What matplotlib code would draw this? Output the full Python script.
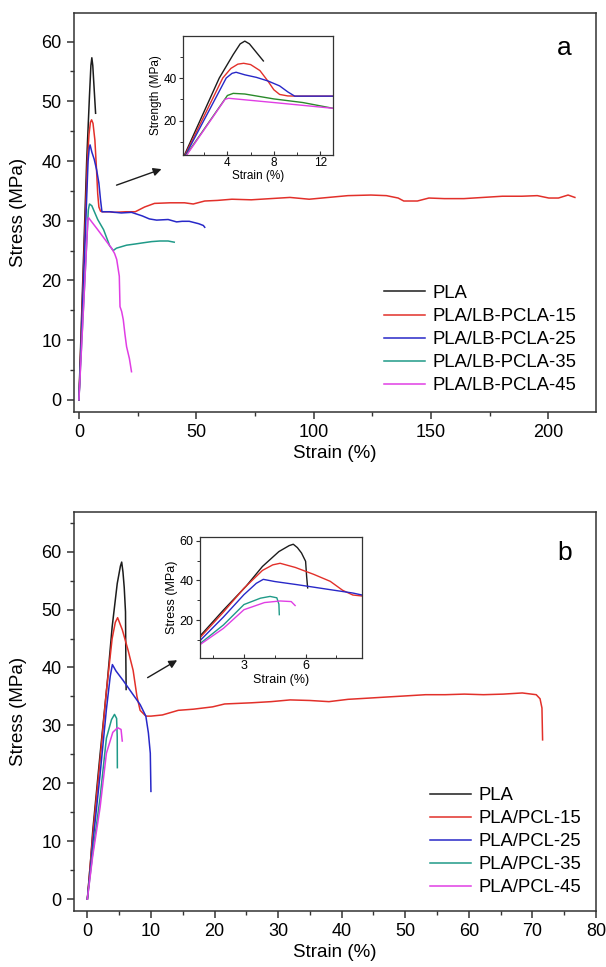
import numpy as np
import matplotlib
matplotlib.use("Agg")
import matplotlib.pyplot as plt
from matplotlib.ticker import MultipleLocator

plt.rcParams['font.family'] = ['Liberation Sans', 'DejaVu Sans']

# ---- panel a: PLA / LB-PCLA blends (strain %, stress MPa) ----
labels_a = ['PLA', 'PLA/LB-PCLA-15', 'PLA/LB-PCLA-25', 'PLA/LB-PCLA-35', 'PLA/LB-PCLA-45']

pla_a_x = [0, 0.3, 3.3, 4.5, 5.1, 5.5, 5.9, 6.5, 7.1]
pla_a_y = [0, 3.9, 40, 51, 56, 57.3, 56, 52, 48]

p15_a_x = [0, 0.35, 3.6, 4.3, 4.9, 5.4, 6.0, 6.8, 7.5, 8.0, 8.5, 9.2, 10, 13.1, 15, 20, 24, 28,
           32.2, 38.8, 45, 48.7, 53.6, 59, 65.2, 73.4, 81.6, 89.9, 98.1, 106.3, 114.6, 124.4,
           131, 136, 138.4, 144.2, 149.1, 155.7, 164, 172.2, 180.4, 188.7, 195.3, 200.2, 204.3,
           208.4, 211.3]
p15_a_y = [0, 3.9, 40, 44.5, 46.5, 46.9, 46.3, 43.5, 38.5, 34.5, 32.3, 31.6, 31.5, 31.5, 31.4,
           31.5, 31.5, 32.3, 32.9, 33.0, 33.0, 32.8, 33.3, 33.4, 33.6, 33.5, 33.7, 33.9, 33.6,
           33.9, 34.2, 34.3, 34.2, 33.8, 33.3, 33.3, 33.8, 33.7, 33.7, 33.9, 34.1, 34.1, 34.2,
           33.8, 33.8, 34.3, 33.9]

p25_a_x = [0, 0.4, 3.9, 4.4, 4.75, 5.5, 6.5, 7.5, 8.5, 9.2, 9.8, 13.1, 18, 22.4, 27, 30, 33.1,
           38, 41.6, 44, 47, 51, 53, 53.6]
p25_a_y = [0, 3.9, 40, 42.2, 42.7, 41.5, 40.3, 38.6, 36.3, 33.5, 31.5, 31.5, 31.3, 31.4, 30.8,
           30.3, 30.1, 30.2, 29.8, 29.9, 29.9, 29.5, 29.2, 28.9]

p35_a_x = [0, 0.45, 4.0, 4.5, 5.5, 8, 10.5, 13.1, 14.6, 16, 20.3, 24, 27.4, 31, 34.5, 38, 40.6]
p35_a_y = [0, 3.9, 31.8, 32.8, 32.5, 30.2, 28.5, 25.8, 25.0, 25.4, 25.9, 26.1, 26.3, 26.5, 26.6,
           26.6, 26.4]

p45_a_x = [0, 0.5, 3.8, 4.1, 8, 13.1, 13.9, 15.2, 16.1, 17.2, 17.5, 18.2, 18.9, 19.6, 20.3, 21.5, 22.4]
p45_a_y = [0, 3.9, 30, 30.5, 28.5, 25.8, 25.4, 24.5, 23.5, 20.7, 15.6, 14.8, 13.4, 11.0, 8.9, 6.9, 4.7]

# ---- panel b: PLA / PCL blends ----
labels_b = ['PLA', 'PLA/PCL-15', 'PLA/PCL-25', 'PLA/PCL-35', 'PLA/PCL-45']

pla_b_x = [0, 0.5, 0.85, 2, 3.1, 3.9, 4.7, 5.2, 5.4, 5.6, 5.8, 6.0, 6.05, 6.1]
pla_b_y = [0, 6.5, 11.8, 25, 37, 47, 54.5, 57.5, 58.2, 56.5, 53.8, 49.6, 42, 36.2]

p15_b_x = [0, 0.5, 0.85, 2, 3, 3.9, 4.4, 4.76, 5.5, 6.4, 7.2, 7.8, 8.3, 9.2, 10, 11.8, 14.3,
           16.7, 19.7, 21.6, 25.8, 28.9, 31.9, 35, 38, 41, 44.1, 47.1, 50.2, 53.2, 56.3, 59.3,
           62.3, 65.4, 68.4, 70.6, 71.2, 71.5, 71.6]
p15_b_y = [0, 6.5, 11, 24, 36, 45, 47.8, 48.6, 46.5, 43, 39.5, 35, 32.6, 31.6, 31.6, 31.8, 32.6,
           32.8, 33.2, 33.7, 33.9, 34.1, 34.4, 34.3, 34.1, 34.5, 34.7, 34.9, 35.1, 35.3, 35.3,
           35.4, 35.3, 35.4, 35.6, 35.3, 34.6, 33, 27.5]

p25_b_x = [0, 0.5, 0.85, 2, 3, 3.6, 3.94, 4.5, 5.6, 7.2, 8.3, 9.2, 9.6, 9.9, 10]
p25_b_y = [0, 5.5, 9.5, 21.5, 32.8, 38.5, 40.5, 39.4, 37.8, 35.3, 33.6, 31.6, 28.7, 25.2, 18.6]

p35_b_x = [0, 0.5, 0.85, 2, 3, 3.8, 4.27, 4.6, 4.7, 4.72]
p35_b_y = [0, 4.7, 8, 17.5, 27.8, 31, 31.9, 31.2, 28, 22.7]

p45_b_x = [0, 0.5, 0.85, 2, 3, 4, 4.76, 5.3, 5.49]
p45_b_y = [0, 4.4, 7.5, 15.8, 25.2, 28.8, 29.6, 29.3, 27.3]

colors = ['#1c1c1c', '#e2302a', '#2828c8', '#1f9a88', '#e03ee4']
inset_a_colors = ['#1c1c1c', '#e2302a', '#2828c8', '#2a8a2a', '#e03ee4']

curves_a = [(pla_a_x, pla_a_y), (p15_a_x, p15_a_y), (p25_a_x, p25_a_y),
            (p35_a_x, p35_a_y), (p45_a_x, p45_a_y)]
curves_b = [(pla_b_x, pla_b_y), (p15_b_x, p15_b_y), (p25_b_x, p25_b_y),
            (p35_b_x, p35_b_y), (p45_b_x, p45_b_y)]

W, H = 606, 967
fig = plt.figure(figsize=(W / 100, H / 100), dpi=100)


def box(l, t, r, b):
    # pixel box -> figure fraction rect
    return [l / W, 1 - b / H, (r - l) / W, (b - t) / H]


def style_main(ax):
    for s in ax.spines.values():
        s.set_linewidth(1.1)
        s.set_color('#333333')
    ax.tick_params(which='both', direction='out', top=False, right=False,
                   labelsize=13, pad=4, color='#333333')
    ax.tick_params(which='major', length=5, width=1.1)
    ax.tick_params(which='minor', length=3, width=1.0)


def style_inset(ax, fs):
    for s in ax.spines.values():
        s.set_linewidth(0.9)
        s.set_color('#333333')
    ax.tick_params(which='both', top=False, right=False, labelsize=fs, pad=1.5, color='#333333')
    ax.tick_params(axis='x', which='both', direction='in')
    ax.tick_params(axis='y', which='both', direction='out')
    ax.tick_params(which='major', length=3, width=0.8)
    ax.tick_params(which='minor', length=2, width=0.7)


# ================= panel a =================
ax1 = fig.add_axes(box(74, 13, 596, 411.7))
for (x, y), c, lab in zip(curves_a, colors, labels_a):
    ax1.plot(x, y, color=c, lw=1.1, label=lab)
ax1.set_xlim(-2.1, 220.3)
ax1.set_ylim(-2, 64.8)
ax1.xaxis.set_major_locator(MultipleLocator(50))
ax1.xaxis.set_minor_locator(MultipleLocator(25))
ax1.yaxis.set_major_locator(MultipleLocator(10))
ax1.yaxis.set_minor_locator(MultipleLocator(5))
style_main(ax1)
ax1.set_xlabel('Strain (%)', fontsize=13.5, labelpad=3)
ax1.set_ylabel('Stress (MPa)', fontsize=13.5)
ax1.yaxis.set_label_coords(-0.09, 0.5)
ax1.text(0.939, 0.912, 'a', transform=ax1.transAxes, fontsize=19, ha='center', va='center')
ax1.legend(loc='upper left', bbox_to_anchor=(0.594, 0.318), frameon=False, fontsize=13.3,
           handlelength=2.2, handletextpad=0.4, labelspacing=0.33, borderpad=0, borderaxespad=0)
ax1.annotate('', xy=(36.3, 38.8), xytext=(14.9, 35.8),
             arrowprops=dict(arrowstyle='-|>', color='#1c1c1c', lw=1.0, mutation_scale=12))

in1 = fig.add_axes(box(183.3, 36, 333, 155))
for (x, y), c in zip(curves_a, inset_a_colors):
    in1.plot(x, y, color=c, lw=1.0)
in1.set_xlim(0.2, 13.1)
in1.set_ylim(3.9, 59.7)
in1.set_xticks([4, 8, 12])
in1.xaxis.set_minor_locator(MultipleLocator(2))
in1.set_yticks([20, 40])
in1.set_yticks([10, 30, 50], minor=True)
style_inset(in1, 8.5)
in1.set_xlabel('Strain (%)', fontsize=8.5, labelpad=1)
in1.set_ylabel('Strength (MPa)', fontsize=8.5, labelpad=1)

# ================= panel b =================
ax2 = fig.add_axes(box(74, 511.7, 596, 910.7))
for (x, y), c, lab in zip(curves_b, colors, labels_b):
    ax2.plot(x, y, color=c, lw=1.1, label=lab)
ax2.set_xlim(-2.1, 80)
ax2.set_ylim(-2, 66.9)
ax2.xaxis.set_major_locator(MultipleLocator(10))
ax2.xaxis.set_minor_locator(MultipleLocator(5))
ax2.yaxis.set_major_locator(MultipleLocator(10))
ax2.yaxis.set_minor_locator(MultipleLocator(5))
style_main(ax2)
ax2.set_xlabel('Strain (%)', fontsize=13.5, labelpad=3)
ax2.set_ylabel('Stress (MPa)', fontsize=13.5)
ax2.yaxis.set_label_coords(-0.09, 0.5)
ax2.text(0.939, 0.896, 'b', transform=ax2.transAxes, fontsize=19, ha='center', va='center')
ax2.legend(loc='upper left', bbox_to_anchor=(0.682, 0.31), frameon=False, fontsize=13.3,
           handlelength=2.2, handletextpad=0.4, labelspacing=0.33, borderpad=0, borderaxespad=0)
ax2.annotate('', xy=(14.5, 41.5), xytext=(9.1, 38.0),
             arrowprops=dict(arrowstyle='-|>', color='#1c1c1c', lw=1.0, mutation_scale=12))

in2 = fig.add_axes(box(199.8, 536.7, 362.5, 658.3))
for (x, y), c in zip(curves_b, colors):
    in2.plot(x, y, color=c, lw=1.0)
in2.set_xlim(0.85, 8.77)
in2.set_ylim(0.7, 62)
in2.set_xticks([3, 6])
in2.set_xticks([1.5, 4.5, 7.5], minor=True)
in2.set_yticks([20, 40, 60])
in2.set_yticks([10, 30, 50], minor=True)
style_inset(in2, 9)
in2.set_xlabel('Strain (%)', fontsize=9, labelpad=1)
in2.set_ylabel('Stress (MPa)', fontsize=9, labelpad=1)

fig.savefig('out.png', dpi=100)
